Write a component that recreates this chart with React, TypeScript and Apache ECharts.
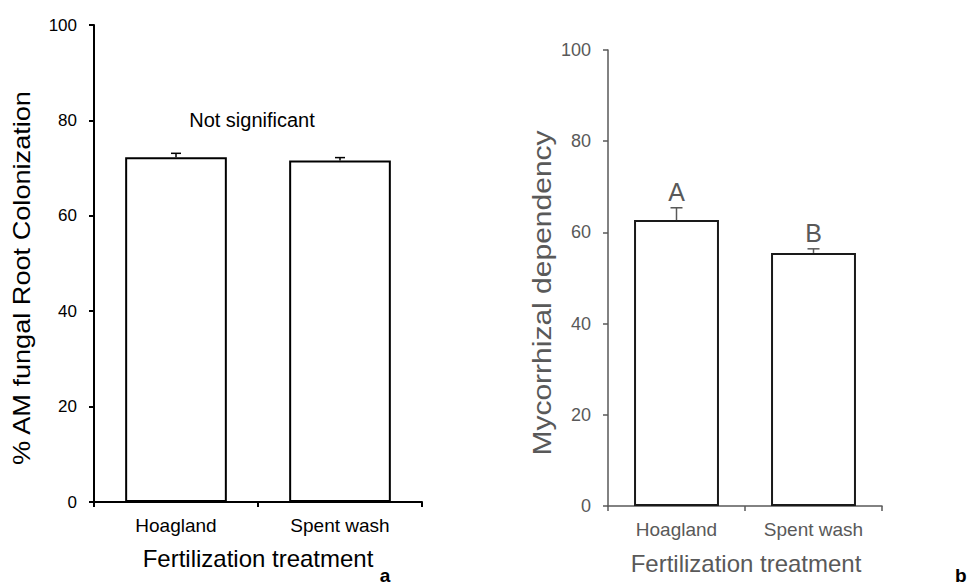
import React, { useEffect, useRef } from "react";
import * as echarts from "echarts";

const categories = ["Hoagland", "Spent wash"];
const colonization = [72.3, 71.6];
const colonizationErr = [0.8, 0.6];
const dependency = [62.7, 55.5];
const dependencyErr = [2.7, 0.9];
const dependencyLetters = ["A", "B"];
const yTickMin = 0;
const yTickMax = 100;
const yTickStep = 20;

const FONT = "'Liberation Sans', Arial, sans-serif";
const BLACK = "#000000";
const GRAY = "#595959";

function errorSeries(
  xAxisIndex: number,
  values: number[],
  errs: number[],
  color: string,
  capHalf: number,
  letters: string[] | null,
  letterColor: string
) {
  return {
    type: "custom",
    xAxisIndex,
    yAxisIndex: xAxisIndex,
    z: 10,
    silent: true,
    data: values.map((v, i) => [i, v, errs[i]]),
    encode: { x: 0, y: 1 },
    renderItem: (params: any, api: any) => {
      const i = api.value(0);
      const v = api.value(1);
      const e = api.value(2);
      const base = api.coord([i, v]);
      const top = api.coord([i, v + e]);
      const children: any[] = [
        {
          type: "line",
          shape: { x1: base[0], y1: base[1], x2: top[0], y2: top[1] },
          style: { stroke: color, lineWidth: 1.5 },
        },
        {
          type: "line",
          shape: { x1: top[0] - capHalf, y1: top[1], x2: top[0] + capHalf, y2: top[1] },
          style: { stroke: color, lineWidth: 1.5 },
        },
      ];
      if (letters) {
        children.push({
          type: "text",
          x: top[0],
          y: top[1] - 3,
          style: {
            text: letters[params.dataIndex],
            fontSize: 25,
            fontFamily: FONT,
            fill: letterColor,
            align: "center",
            verticalAlign: "bottom",
          },
        });
      }
      return { type: "group", children };
    },
  };
}

export default function App() {
  const ref = useRef<HTMLDivElement>(null);

  useEffect(() => {
    if (!ref.current) return;
    const chart = echarts.init(ref.current, undefined, { renderer: "svg" });

    const makeX = (gridIndex: number, color: string, lw: number) => ({
      type: "category",
      gridIndex,
      data: categories,
      boundaryGap: true,
      axisLine: { show: true, lineStyle: { color, width: lw } },
      axisTick: { show: true, length: 5, lineStyle: { color, width: lw } },
      axisLabel: { fontSize: 19, fontFamily: FONT, color, margin: 14 },
      splitLine: { show: false },
    });

    const makeY = (gridIndex: number, color: string, lw: number, fs: number, margin: number) => ({
      type: "value",
      gridIndex,
      min: yTickMin,
      max: yTickMax,
      interval: yTickStep,
      axisLine: { show: true, lineStyle: { color, width: lw } },
      axisTick: { show: true, length: 5, lineStyle: { color, width: lw } },
      axisLabel: { fontSize: fs, fontFamily: FONT, color, margin },
      splitLine: { show: false },
    });

    chart.setOption({
      animation: false,
      backgroundColor: "#ffffff",
      grid: [
        { left: 94, top: 25, width: 328, height: 477 },
        { left: 608, top: 50, width: 274, height: 456 },
      ],
      xAxis: [makeX(0, BLACK, 2), makeX(1, GRAY, 1.5)],
      yAxis: [makeY(0, BLACK, 2, 17, 17), makeY(1, GRAY, 1.5, 18, 17)],
      series: [
        {
          type: "bar",
          xAxisIndex: 0,
          yAxisIndex: 0,
          data: colonization,
          barWidth: "62%",
          itemStyle: { color: "#ffffff", borderColor: BLACK, borderWidth: 2 },
          silent: true,
        },
        errorSeries(0, colonization, colonizationErr, BLACK, 5, null, BLACK),
        {
          type: "bar",
          xAxisIndex: 1,
          yAxisIndex: 1,
          data: dependency,
          barWidth: "62%",
          itemStyle: { color: "#ffffff", borderColor: "#1a1a1a", borderWidth: 2 },
          silent: true,
        },
        errorSeries(1, dependency, dependencyErr, GRAY, 6, dependencyLetters, GRAY),
      ],
      graphic: [
        {
          type: "text",
          x: 252,
          y: 120,
          style: {
            text: "Not significant",
            fontSize: 20,
            fontFamily: FONT,
            fill: BLACK,
            align: "center",
            verticalAlign: "middle",
          },
        },
        {
          type: "text",
          x: 22,
          y: 278,
          rotation: Math.PI / 2,
          scaleX: 1.18,
          style: {
            text: "% AM fungal Root Colonization",
            fontSize: 23,
            fontFamily: FONT,
            fill: BLACK,
            align: "center",
            verticalAlign: "middle",
          },
        },
        {
          type: "text",
          x: 542,
          y: 293,
          rotation: Math.PI / 2,
          scaleX: 1.2,
          style: {
            text: "Mycorrhizal dependency",
            fontSize: 25,
            fontFamily: FONT,
            fill: GRAY,
            align: "center",
            verticalAlign: "middle",
          },
        },
        {
          type: "text",
          x: 258,
          y: 558,
          style: {
            text: "Fertilization treatment",
            fontSize: 24,
            fontFamily: FONT,
            fill: BLACK,
            align: "center",
            verticalAlign: "middle",
          },
        },
        {
          type: "text",
          x: 746,
          y: 563,
          style: {
            text: "Fertilization treatment",
            fontSize: 24,
            fontFamily: FONT,
            fill: GRAY,
            align: "center",
            verticalAlign: "middle",
          },
        },
        {
          type: "text",
          x: 385,
          y: 575,
          style: {
            text: "a",
            fontSize: 19,
            fontWeight: "bold",
            fontFamily: FONT,
            fill: BLACK,
            align: "center",
            verticalAlign: "middle",
          },
        },
        {
          type: "text",
          x: 955,
          y: 575,
          style: {
            text: "b",
            fontSize: 19,
            fontWeight: "bold",
            fontFamily: FONT,
            fill: BLACK,
            align: "left",
            verticalAlign: "middle",
          },
        },
      ],
    });

    return () => chart.dispose();
  }, []);

  return (
    <div
      ref={ref}
      style={{ position: "fixed", left: 0, top: 0, width: 968, height: 587, background: "#fff" }}
    />
  );
}
